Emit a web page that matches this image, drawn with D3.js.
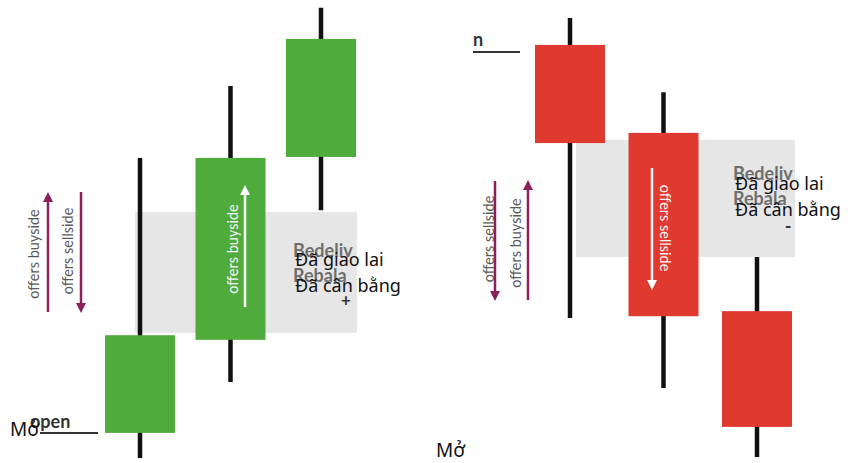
<!DOCTYPE html>
<html>
<head>
<meta charset="utf-8">
<script src="https://cdn.jsdelivr.net/npm/d3@7"></script>
<style>
  body { margin: 0; background: #fff; }
  svg { display: block; }
</style>
</head>
<body>
<div id="chart"></div>
<script>
// price values (0..100 scale)
var leftOpen = [6.5, 26.6, 66.1];
var leftClose = [27.6, 65.9, 91.6];
var leftHigh = [65.9, 81.4, 98.3];
var leftLow = [1.1, 17.5, 54.6];
var leftBand = [28.1, 54.2];

var rightOpen = [90.3, 71.3, 32.8];
var rightClose = [69.1, 31.7, 7.8];
var rightHigh = [96.1, 80.1, 44.5];
var rightLow = [31.3, 16.2, 1.3];
var rightBand = [44.5, 69.8];

var labelBuy = "offers buyside";
var labelSell = "offers sellside";
var ghostLabels = ["Bedeliv", "Rebala"];
var overlayLabels = ["Đã giao lai", "Đã cân bằng"];
var openLabel = "Mở";

var width = 859, height = 463;
var svg = d3.select("#chart").append("svg")
  .attr("width", width).attr("height", height);

var y = d3.scaleLinear().domain([0, 100]).range([height, 0]);
var xl = d3.scalePoint().domain([0, 1, 2]).range([140, 321]);
var xr = d3.scalePoint().domain([0, 1, 2]).range([570, 757]);
var bodyW = 70;

var green = "#50ab3d", red = "#e03a30", purple = "#8c1f5c";

var defs = svg.append("defs");
function marker(id, color) {
  defs.append("marker").attr("id", id)
    .attr("viewBox", "0 0 10 10").attr("refX", 5).attr("refY", 5)
    .attr("markerWidth", 4).attr("markerHeight", 4)
    .attr("orient", "auto-start-reverse")
    .append("path").attr("d", "M0,0 L10,5 L0,10 z").attr("fill", color);
}
marker("ap", purple);
marker("aw", "#fff");

function panel(x, o, c, h, l, band, color, bandX0, bandX1, clipId) {
  var g = svg.append("g");
  // grey zone
  g.append("rect")
    .attr("x", bandX0).attr("width", bandX1 - bandX0)
    .attr("y", y(band[1])).attr("height", y(band[0]) - y(band[1]))
    .attr("fill", "#e6e6e6");
  defs.append("clipPath").attr("id", clipId).append("rect")
    .attr("x", bandX0).attr("width", bandX1 - bandX0)
    .attr("y", y(band[1])).attr("height", y(band[0]) - y(band[1]));

  var idx = d3.range(o.length);
  g.selectAll(".wick").data(idx).enter().append("line")
    .attr("x1", function (i) { return x(i); })
    .attr("x2", function (i) { return x(i); })
    .attr("y1", function (i) { return y(h[i]); })
    .attr("y2", function (i) { return y(l[i]); })
    .attr("stroke", "#111").attr("stroke-width", 4.5);
  g.selectAll(".body").data(idx).enter().append("rect")
    .attr("x", function (i) { return x(i) - bodyW / 2; })
    .attr("width", bodyW)
    .attr("y", function (i) { return y(Math.max(o[i], c[i])); })
    .attr("height", function (i) { return Math.abs(y(o[i]) - y(c[i])); })
    .attr("fill", color);
  return g;
}

panel(xl, leftOpen, leftClose, leftHigh, leftLow, leftBand, green, 135, 357, "clipL");
panel(xr, rightOpen, rightClose, rightHigh, rightLow, rightBand, red, 576, 795, "clipR");

function vtext(x, cy, txt, rot, color) {
  svg.append("text")
    .attr("transform", "translate(" + x + "," + cy + ") rotate(" + rot + ")")
    .attr("text-anchor", "middle").attr("dominant-baseline", "central")
    .attr("font-family", "Lato, 'Open Sans', sans-serif").attr("font-size", 14.5)
    .attr("fill", color).text(txt);
}
function arrow(x, y0, y1, up, color, mk) {
  svg.append("line")
    .attr("x1", x).attr("x2", x)
    .attr("y1", up ? y1 : y0).attr("y2", up ? y0 : y1)
    .attr("stroke", color).attr("stroke-width", 2.5)
    .attr("marker-end", "url(#" + mk + ")");
}

// left side annotations
vtext(33, 254, labelBuy, -90, "#5a5a5a");
arrow(48, 197, 312, true, purple, "ap");
vtext(67, 251, labelSell, -90, "#5a5a5a");
arrow(81, 192, 308, false, purple, "ap");
vtext(232, 249, labelBuy, -90, "#f4f4f4");
arrow(245, 190, 307, true, "#f4f4f4", "aw");

// right side annotations
vtext(488, 239, labelSell, -90, "#5a5a5a");
arrow(495, 181, 296, false, purple, "ap");
vtext(515, 243, labelBuy, -90, "#5a5a5a");
arrow(528, 185, 300, true, purple, "ap");
vtext(665, 228, labelSell, 90, "#f4f4f4");
arrow(652, 168, 285, false, "#f4f4f4", "aw");

// ghost text behind the translation, clipped to the grey zone
function ghost(x, y0, clipId) {
  svg.append("g").attr("clip-path", "url(#" + clipId + ")")
    .selectAll("text").data(ghostLabels).enter().append("text")
    .attr("x", x).attr("y", function (d, i) { return y0 + i * 25; })
    .attr("font-family", "Lato, sans-serif").attr("font-weight", "bold")
    .attr("font-size", 18).attr("fill", "#6e6e6e").text(function (d) { return d; });
}
ghost(293, 257, "clipL");
ghost(733, 180, "clipR");

function overlay(x, y0) {
  svg.append("g").selectAll("text").data(overlayLabels).enter().append("text")
    .attr("x", x).attr("y", function (d, i) { return y0 + i * 26; })
    .attr("font-family", "'Noto Sans', sans-serif").attr("font-size", 18)
    .attr("fill", "#111").text(function (d) { return d; });
}
overlay(295, 266);
overlay(735, 190);

svg.append("text").attr("x", 346).attr("y", 306).attr("text-anchor", "middle")
  .attr("font-family", "Lato, sans-serif").attr("font-weight", "bold")
  .attr("font-size", 17).attr("fill", "#333").text("+");
svg.append("text").attr("x", 788).attr("y", 233).attr("text-anchor", "middle")
  .attr("font-family", "Lato, sans-serif").attr("font-weight", "bold")
  .attr("font-size", 18).attr("fill", "#333").text("-");

// "open" marker lines
svg.append("line").attr("x1", 40).attr("x2", 98).attr("y1", 433).attr("y2", 433)
  .attr("stroke", "#333").attr("stroke-width", 2);
svg.append("text").attr("x", 30).attr("y", 428)
  .attr("font-family", "Lato, sans-serif").attr("font-weight", "bold")
  .attr("font-size", 18).attr("fill", "#333").text("open");
svg.append("line").attr("x1", 473).attr("x2", 520).attr("y1", 52).attr("y2", 52)
  .attr("stroke", "#333").attr("stroke-width", 2);
svg.append("text").attr("x", 473).attr("y", 46)
  .attr("font-family", "Lato, sans-serif").attr("font-weight", "bold")
  .attr("font-size", 18).attr("fill", "#333").text("n");

svg.append("text").attr("x", 10).attr("y", 436)
  .attr("font-family", "'Noto Sans', sans-serif").attr("font-size", 19)
  .attr("fill", "#111").text(openLabel);
svg.append("text").attr("x", 436).attr("y", 457)
  .attr("font-family", "'Noto Sans', sans-serif").attr("font-size", 19)
  .attr("fill", "#111").text(openLabel);
</script>
</body>
</html>
